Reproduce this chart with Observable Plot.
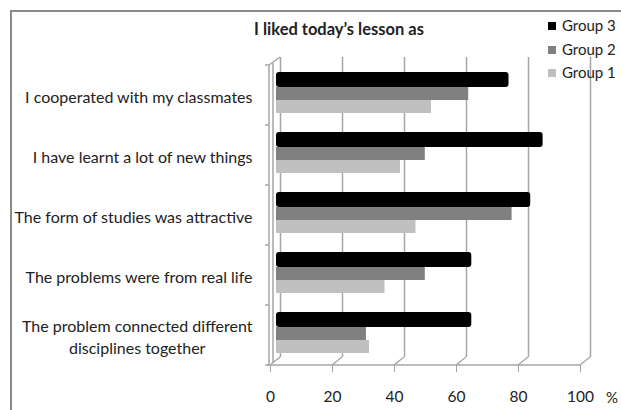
<!DOCTYPE html>
<html>
<head>
<meta charset="utf-8">
<script src="https://cdn.jsdelivr.net/npm/d3@7"></script>
<script src="https://cdn.jsdelivr.net/npm/@observablehq/plot@0.6"></script>
<style>
  html, body { margin: 0; padding: 0; background: #fff; }
  #wrap { position: relative; width: 621px; height: 410px; overflow: hidden; font-family: Lato, sans-serif; color: #222; }
  #frame { position: absolute; left: 10px; top: 10px; width: 700px; height: 500px; border-left: 2px solid #8a8a8a; border-top: 2px solid #8a8a8a; pointer-events: none; }
  #title { position: absolute; left: 219px; width: 240px; top: 19px; text-align: center; font-weight: bold; font-size: 16.5px; }
  .leg { position: absolute; left: 548px; font-size: 15px; line-height: 18px; white-space: nowrap; }
  .leg span.sw { display: inline-block; width: 8px; height: 8px; margin-right: 6px; vertical-align: 1px; }
  #pct { position: absolute; left: 606px; top: 388px; font-size: 15px; }
  #chart { position: absolute; left: 0; top: 0; }
  [aria-label^="x-axis"] line, [aria-label^="x-axis"] path { stroke: #a0a0a0; }
</style>
</head>
<body>
<div id="wrap">
  <div id="chart"></div>
  <div id="frame"></div>
  <div id="title">I liked today’s lesson as</div>
  <div id="legend"></div>
  <div id="pct">%</div>
</div>
<script>
const categories = [
  "I cooperated with my classmates",
  "I have learnt a lot of new things",
  "The form of studies was attractive",
  "The problems were from real life",
  "The problem connected different\ndisciplines together"
];
const groups = ["Group 3", "Group 2", "Group 1"];
const group3 = [75, 86, 82, 63, 63];
const group2 = [62, 48, 76, 48, 29];
const group1 = [50, 40, 45, 35, 30];
const xTicks = [0, 20, 40, 60, 80, 100];

const colors = ["#000000", "#808080", "#c0c0c0"];
const capColors = ["#3a3a3a", "#5c5c5c", "#8e8e8e"];
const insets = [[10, 35], [25, 22], [38, 9]];
const seriesValues = [group3, group2, group1];

const rows = groups.map((g, gi) => categories.map((c, ci) => ({cat: c, group: g, gi, value: seriesValues[gi][ci]})));

const marks = [
  Plot.ruleX(xTicks, {dx: 10, dy: -8, stroke: "#a6a6a6", strokeWidth: 1.5})
];
groups.forEach((g, gi) => {
  marks.push(Plot.barX(rows[gi], {x: "value", y: "cat", fill: colors[gi], dx: 6, dy: -3,
    insetTop: insets[gi][0], insetBottom: insets[gi][1], rx: gi === 0 ? 3 : 0}));
  marks.push(Plot.ruleX(rows[gi], {x: "value", y: "cat", stroke: capColors[gi], strokeWidth: 3, dx: 7.5, dy: -3,
    insetTop: insets[gi][0] + 1, insetBottom: insets[gi][1]}));
});

// category labels: single lines right-aligned; wrapped lines centred under the first line
const ctx = document.createElement("canvas").getContext("2d");
ctx.font = "16px Lato";
const singles = categories.filter(c => !c.includes("\n"));
const multis = categories.filter(c => c.includes("\n"));
marks.push(Plot.text(singles, {y: d => d, text: d => d, frameAnchor: "left", textAnchor: "end",
  dx: -18, dy: 2, fill: "#222", fontSize: 16}));
multis.forEach(c => {
  const lines = c.split("\n");
  const w = ctx.measureText(lines[0]).width;
  const lh = 22;
  const off = -(lines.length - 1) * lh / 2 + 2;
  marks.push(Plot.text([c], {y: d => d, text: () => lines[0], frameAnchor: "left", textAnchor: "end",
    dx: -18, dy: off, fill: "#222", fontSize: 16}));
  lines.slice(1).forEach((ln, li) => {
    marks.push(Plot.text([c], {y: d => d, text: () => ln, frameAnchor: "left", textAnchor: "middle",
      dx: -18 - w / 2, dy: off + (li + 1) * lh, fill: "#222", fontSize: 16}));
  });
});

const chart = Plot.plot({
  width: 621, height: 410,
  marginLeft: 270, marginRight: 41, marginTop: 65, marginBottom: 45,
  style: {fontFamily: "Lato, sans-serif", fontSize: "15.5px", color: "#222", background: "transparent"},
  x: {domain: [0, 100], ticks: xTicks, tickSize: 7, tickPadding: 18, label: null},
  y: {domain: categories, padding: 0, axis: null},
  marks
});
document.getElementById("chart").appendChild(chart);

// 3D floor / wall decorations drawn with Plot's own scales
const xs = chart.scale("x");
const ys = chart.scale("y");
const x0 = xs.apply(0);
const [yTop, yBot] = [Math.min(...ys.range), Math.max(...ys.range)];
const svg = d3.select(chart);
const g = svg.append("g").attr("stroke", "#a6a6a6").attr("stroke-width", 1.5).attr("fill", "none");
g.append("line").attr("x1", x0 - 3).attr("x2", xs.apply(100)).attr("y1", yBot).attr("y2", yBot);
xTicks.forEach(t => {
  g.append("line").attr("x1", xs.apply(t)).attr("y1", yBot).attr("x2", xs.apply(t) + 10).attr("y2", yBot - 8);
});
g.append("line").attr("x1", x0 - 1).attr("x2", x0 - 1).attr("y1", yTop).attr("y2", yBot);
g.append("line").attr("x1", x0 + 3).attr("x2", x0 + 3).attr("y1", yTop - 2).attr("y2", yBot - 2);
g.append("line").attr("x1", x0 - 1).attr("y1", yTop).attr("x2", x0 + 10).attr("y2", yTop - 8);
for (let k = 0; k <= categories.length; k++) {
  const yb = yTop + k * ys.bandwidth;
  g.append("line").attr("x1", x0 - 5).attr("x2", x0 - 1).attr("y1", yb).attr("y2", yb);
}

// legend
const legend = document.getElementById("legend");
const legendTops = [16, 40, 63];
groups.forEach((gname, gi) => {
  const d = document.createElement("div");
  d.className = "leg";
  d.style.top = legendTops[gi] + "px";
  d.innerHTML = `<span class="sw" style="background:${colors[gi]}"></span>${gname}`;
  legend.appendChild(d);
});
</script>
</body>
</html>
